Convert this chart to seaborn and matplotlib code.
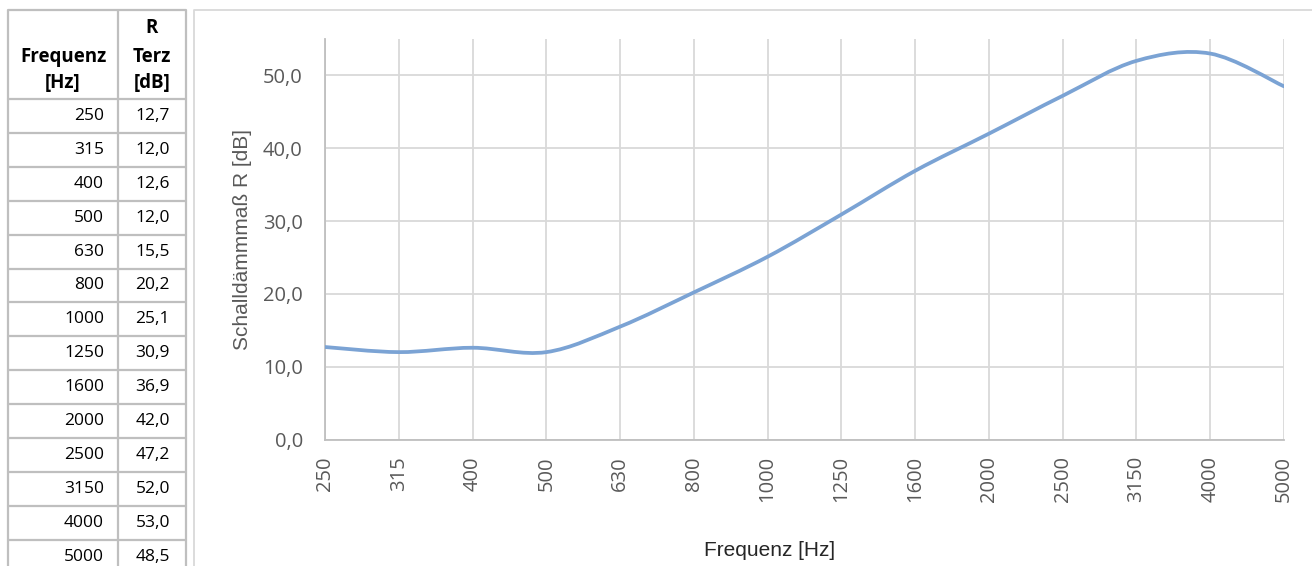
import matplotlib.pyplot as plt
import seaborn as sns
from matplotlib.path import Path
from matplotlib.patches import PathPatch

# Terzband-Frequenzen und Schalldämmmaß
frequencies = ["250", "315", "400", "500", "630", "800", "1000", "1250",
               "1600", "2000", "2500", "3150", "4000", "5000"]
r_terz = [12.7, 12.0, 12.6, 12.0, 15.5, 20.2, 25.1, 30.9,
          36.9, 42.0, 47.2, 52.0, 53.0, 48.5]
y_ticks = [0, 10, 20, 30, 40, 50]


def de_format(v):
    return f"{v:.1f}".replace(".", ",")


def smooth_path(xs, ys):
    # Excel-artige Glättung: Bezier-Segmente (Catmull-Rom) durch die Messpunkte
    pts = list(zip(xs, ys))
    verts = [pts[0]]
    codes = [Path.MOVETO]
    n = len(pts)
    for i in range(n - 1):
        p0 = pts[max(i - 1, 0)]
        p1 = pts[i]
        p2 = pts[i + 1]
        p3 = pts[min(i + 2, n - 1)]
        c1 = (p1[0] + (p2[0] - p0[0]) / 6, p1[1] + (p2[1] - p0[1]) / 6)
        c2 = (p2[0] - (p3[0] - p1[0]) / 6, p2[1] - (p3[1] - p1[1]) / 6)
        verts += [c1, c2, p2]
        codes += [Path.CURVE4] * 3
    return Path(verts, codes)


sns.set_theme(style="white")
plt.rcParams['font.family'] = ['Liberation Sans', 'DejaVu Sans']

W, H = 1312, 566
fig = plt.figure(figsize=(W / 100, H / 100), dpi=100)

# --- Tabelle links (Pixel-Koordinaten) ---
tab = fig.add_axes([0, 0, 1, 1])
tab.set_xlim(0, W)
tab.set_ylim(H, 0)
tab.axis("off")

grid_c = "#bfbfbf"
row_top = 99
row_h = 33.9
for x in [8, 118, 186]:
    tab.plot([x, x], [10, H], color=grid_c, lw=1.6, solid_capstyle="butt")
tab.plot([8, 186], [10, 10], color=grid_c, lw=1.6)
for k in range(len(frequencies) + 1):
    y = row_top + k * row_h
    if y < H:
        tab.plot([8, 186], [y, y], color=grid_c, lw=1.6)

tab_font = ['Open Sans', 'DejaVu Sans']
hdr = dict(family=tab_font, fontsize=13.5, fontweight="bold", color="#000000",
           ha="center", va="center")
tab.text(63, 57, "Frequenz", **hdr)
tab.text(63, 83, "[Hz]", **hdr)
tab.text(152, 28, "R", **hdr)
tab.text(152, 57, "Terz", **hdr)
tab.text(152, 83, "[dB]", **hdr)

cell = dict(family=tab_font, fontsize=12.5, color="#000000", va="center")
for k, (f, r) in enumerate(zip(frequencies, r_terz)):
    yc = row_top + (k + 0.5) * row_h
    tab.text(104, yc, f, ha="right", **cell)
    tab.text(170, yc, de_format(r), ha="right", **cell)

# Rahmen des Diagrammbereichs
tab.plot([194, 194, W], [H, 10, 10], color="#d9d9d9", lw=1.3)

# --- Diagramm ---
left, right, top, bottom = 325, 1284, 39, 439.5
ax = fig.add_axes([left / W, (H - bottom) / H, (right - left) / W, (bottom - top) / H])
ax.set_facecolor("none")

xpos = list(range(len(frequencies)))
patch = PathPatch(smooth_path(xpos, r_terz), facecolor="none",
                  edgecolor="#7ba3d4", lw=2.7, capstyle="round", zorder=3)
ax.add_patch(patch)

tick_font = ['Open Sans', 'DejaVu Sans']
ax.set_xlim(0, len(frequencies) - 1)
ax.set_ylim(0, 55)
ax.set_xticks(xpos)
ax.set_xticklabels(frequencies, rotation=90, ha="center", va="top",
                   family=tick_font, fontsize=14.5, color="#595959")
ax.set_yticks(y_ticks)
ax.set_yticklabels([de_format(v) for v in y_ticks],
                   family=tick_font, fontsize=14.5, color="#595959")
ax.tick_params(axis="x", length=0, pad=12)
ax.tick_params(axis="y", length=0, pad=16)

ax.grid(True, color="#d9d9d9", lw=1.3)
ax.set_axisbelow(True)
sns.despine(ax=ax, top=True, right=True)
for s in ["left", "bottom"]:
    ax.spines[s].set_color("#bfbfbf")
    ax.spines[s].set_linewidth(1.3)

ax.set_ylabel("Schalldämmmaß R [dB]", fontsize=15, color="#595959")
ax.yaxis.label.set_va("center")
ax.yaxis.set_label_coords((242 - left) / (right - left), 0.5)
ax.set_xlabel("Frequenz [Hz]", fontsize=15, color="#262626")
ax.xaxis.label.set_va("center")
ax.xaxis.set_label_coords((770 - left) / (right - left), (bottom - 551) / (bottom - top))

fig.savefig("out.png", dpi=100)
